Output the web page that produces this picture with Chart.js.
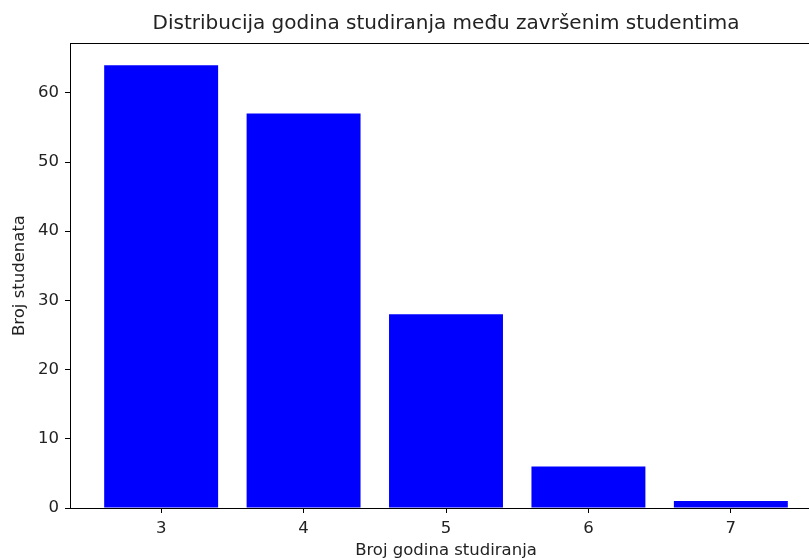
<!DOCTYPE html>
<html>
<head>
<meta charset="utf-8">
<script src="https://cdn.jsdelivr.net/npm/chart.js@4/dist/chart.umd.min.js"></script>
<style>
  html, body { margin: 0; padding: 0; background: #fff; overflow: hidden; }
  #wrap { width: 809px; height: 558px; overflow: hidden; }
  #canvas { display: block; }
</style>
</head>
<body>
<div id="wrap"><canvas id="canvas" width="822" height="558"></canvas></div>
<script>
var godine = [3, 4, 5, 6, 7];
var brojStudenata = [64, 57, 28, 6, 1];
var yTicks = [0, 10, 20, 30, 40, 50, 60];

Chart.defaults.font.family = "'DejaVu Sans', sans-serif";
Chart.defaults.color = '#222';

// okvir oko područja grafa (kao matplotlib spines)
var okvir = {
    id: 'okvir',
    afterDraw: function (chart) {
        var a = chart.chartArea;
        var ctx = chart.ctx;
        ctx.save();
        ctx.strokeStyle = '#000';
        ctx.lineWidth = 1;
        ctx.strokeRect(Math.round(a.left) + 0.5, Math.round(a.top) + 0.5,
            Math.round(a.right - a.left), Math.round(a.bottom - a.top));
        ctx.restore();
    }
};

var config = {
    type: 'bar',
    data: {
        datasets: [{
            data: godine.map(function (g, i) { return { x: g, y: brojStudenata[i] }; }),
            backgroundColor: '#0000ff',
            borderWidth: 0,
            barPercentage: 0.8,
            categoryPercentage: 1.0
        }]
    },
    options: {
        responsive: false,
        animation: false,
        layout: { padding: 0 },
        plugins: {
            legend: { display: false },
            tooltip: { enabled: false },
            title: {
                display: true,
                fullSize: false,
                text: 'Distribucija godina studiranja među završenim studentima',
                font: { size: 20, weight: 'normal' },
                padding: { top: 12, bottom: 7 }
            }
        },
        scales: {
            x: {
                type: 'linear',
                min: 2.36,
                max: 7.64,
                offset: false,
                grid: { drawOnChartArea: false, offset: false, tickLength: 5, color: '#000' },
                border: { display: false },
                afterBuildTicks: function (s) { s.ticks = godine.map(function (v) { return { value: v }; }); },
                afterFit: function (s) { s.height = 50; },
                ticks: { font: { size: 16.5 }, padding: 6, maxRotation: 0 },
                title: { display: true, text: 'Broj godina studiranja', font: { size: 16.5 }, padding: { top: 0, bottom: -3 } }
            },
            y: {
                min: 0,
                max: 67.2,
                grid: { drawOnChartArea: false, tickLength: 5, color: '#000' },
                border: { display: false },
                afterBuildTicks: function (s) { s.ticks = yTicks.map(function (v) { return { value: v }; }); },
                afterFit: function (s) { s.width = 70; },
                ticks: { font: { size: 16.5 }, padding: 6 },
                title: { display: true, text: 'Broj studenata', font: { size: 16.5 }, padding: { top: 10, bottom: 10 } }
            }
        }
    },
    plugins: [okvir]
};

window.myBar = new Chart(document.getElementById('canvas'), config);
</script>
</body>
</html>
